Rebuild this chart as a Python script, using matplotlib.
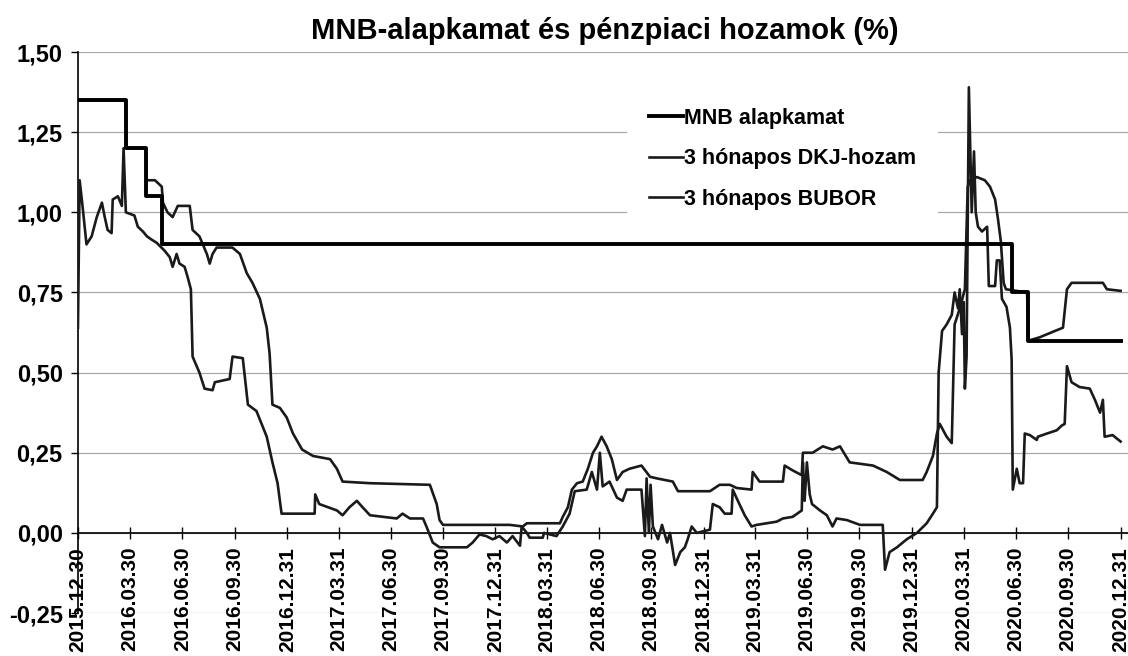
# -*- coding: utf-8 -*-
"""
MNB-alapkamat es penzpiaci hozamok (%), 2016-2020
"""
import matplotlib
matplotlib.use('Agg')
import matplotlib.pyplot as plt
import pandas as pd

plt.rcParams['font.family'] = ['Liberation Sans', 'DejaVu Sans']
plt.rcParams['font.weight'] = 'bold'

# %% data
mnb_dates = ['2015-12-30', '2016-03-23', '2016-04-27', '2016-05-25',
             '2020-06-24', '2020-07-22', '2020-12-31']
mnb_values = [1.35, 1.20, 1.05, 0.90, 0.75, 0.60, 0.60]

bubor_dates = [
    '2015-12-30', '2016-03-23', '2016-03-24', '2016-04-27', '2016-04-28',
    '2016-05-13', '2016-05-25', '2016-05-27', '2016-06-04', '2016-06-13',
    '2016-06-22', '2016-07-13', '2016-07-18', '2016-07-30', '2016-08-12',
    '2016-08-17', '2016-08-22', '2016-08-29', '2016-09-26', '2016-10-09',
    '2016-10-21', '2016-10-31', '2016-11-13', '2016-11-25', '2016-11-30',
    '2016-12-05', '2016-12-18', '2016-12-30', '2017-01-10', '2017-01-26',
    '2017-02-14', '2017-03-16', '2017-03-28', '2017-04-07', '2017-05-25',
    '2017-09-07', '2017-09-19', '2017-09-24', '2017-09-30', '2018-01-25',
    '2018-02-17', '2018-02-24', '2018-04-23', '2018-04-28', '2018-05-07',
    '2018-05-14', '2018-05-23', '2018-06-02', '2018-06-11', '2018-06-20',
    '2018-06-27', '2018-07-05', '2018-07-14', '2018-07-23', '2018-08-01',
    '2018-08-11', '2018-08-23', '2018-09-13', '2018-09-28', '2018-10-10',
    '2018-11-07', '2018-11-16', '2019-01-11', '2019-01-28', '2019-02-15',
    '2019-02-27', '2019-03-25', '2019-03-27', '2019-04-08', '2019-05-19',
    '2019-05-22', '2019-06-05', '2019-06-21', '2019-06-23', '2019-07-10',
    '2019-07-28', '2019-08-14', '2019-08-27', '2019-09-13', '2019-10-24',
    '2019-11-17', '2019-12-10', '2020-01-19', '2020-01-26', '2020-02-06',
    '2020-02-13', '2020-02-18', '2020-03-01', '2020-03-10', '2020-03-15',
    '2020-03-24', '2020-04-02', '2020-04-07', '2020-04-11', '2020-04-23',
    '2020-05-07', '2020-05-16', '2020-05-25', '2020-05-30', '2020-06-04',
    '2020-06-09', '2020-06-13', '2020-07-20', '2020-07-23', '2020-08-11',
    '2020-09-07', '2020-09-21', '2020-09-28', '2020-10-06', '2020-11-30',
    '2020-12-07', '2020-12-31']
bubor_values = [
    1.35, 1.35, 1.20, 1.20, 1.10,
    1.10, 1.08, 1.03, 1.00, 0.985,
    1.02, 1.02, 0.945, 0.925, 0.87,
    0.84, 0.87, 0.89, 0.89, 0.87,
    0.81, 0.78, 0.73, 0.64, 0.56,
    0.40, 0.39, 0.36, 0.31, 0.26,
    0.24, 0.23, 0.20, 0.16, 0.155,
    0.15, 0.09, 0.04, 0.025, 0.025,
    0.02, 0.03, 0.03, 0.05, 0.08,
    0.135, 0.155, 0.16, 0.20, 0.25,
    0.27, 0.30, 0.27, 0.23, 0.165,
    0.19, 0.20, 0.21, 0.175, 0.17,
    0.16, 0.13, 0.13, 0.15, 0.15,
    0.14, 0.135, 0.19, 0.16, 0.16,
    0.21, 0.195, 0.18, 0.25, 0.25,
    0.27, 0.26, 0.27, 0.22, 0.21,
    0.19, 0.165, 0.165, 0.19, 0.24,
    0.31, 0.34, 0.30, 0.28, 0.65,
    0.70, 0.76, 1.08, 1.10, 1.11,
    1.10, 1.08, 1.04, 0.98, 0.91,
    0.78, 0.76, 0.75, 0.60, 0.61,
    0.63, 0.64, 0.76, 0.78, 0.78,
    0.76, 0.755]

dkj_dates = [
    '2015-12-30', '2016-01-02', '2016-01-07', '2016-01-14', '2016-01-23',
    '2016-02-01', '2016-02-10', '2016-02-15', '2016-02-20', '2016-02-27',
    '2016-02-29', '2016-03-09', '2016-03-16', '2016-03-19', '2016-03-23',
    '2016-04-07', '2016-04-13', '2016-04-22', '2016-04-29', '2016-05-07',
    '2016-05-16', '2016-05-30', '2016-06-08', '2016-06-13', '2016-06-20',
    '2016-06-25', '2016-07-04', '2016-07-09', '2016-07-15', '2016-07-18',
    '2016-07-30', '2016-08-08', '2016-08-22', '2016-08-26', '2016-09-21',
    '2016-09-26', '2016-10-14', '2016-10-23', '2016-11-07', '2016-11-25',
    '2016-12-05', '2016-12-14', '2016-12-21', '2017-02-17', '2017-02-18',
    '2017-02-25', '2017-03-28', '2017-04-07', '2017-04-19', '2017-05-02',
    '2017-05-12', '2017-05-25', '2017-07-11', '2017-07-21', '2017-08-03',
    '2017-08-26', '2017-09-01', '2017-09-12', '2017-09-24', '2017-11-11',
    '2017-11-21', '2017-12-03', '2017-12-15', '2017-12-26', '2018-01-07',
    '2018-01-20', '2018-01-30', '2018-02-12', '2018-02-15', '2018-02-24',
    '2018-03-01', '2018-03-24', '2018-03-26', '2018-04-17', '2018-04-28',
    '2018-05-10', '2018-05-19', '2018-06-09', '2018-06-18', '2018-06-27',
    '2018-07-02', '2018-07-07', '2018-07-19', '2018-08-01', '2018-08-11',
    '2018-08-18', '2018-09-13', '2018-09-19', '2018-09-22', '2018-09-26',
    '2018-09-29', '2018-10-03', '2018-10-12', '2018-10-19', '2018-10-28',
    '2018-11-02', '2018-11-11', '2018-11-20', '2018-11-28', '2018-12-03',
    '2018-12-10', '2018-12-19', '2019-01-11', '2019-01-16', '2019-01-28',
    '2019-02-06', '2019-02-18', '2019-02-20', '2019-03-01', '2019-03-13',
    '2019-03-25', '2019-04-03', '2019-04-21', '2019-05-08', '2019-05-19',
    '2019-06-05', '2019-06-21', '2019-06-23', '2019-06-26', '2019-06-30',
    '2019-07-05', '2019-07-09', '2019-07-23', '2019-08-04', '2019-08-14',
    '2019-08-21', '2019-09-08', '2019-10-01', '2019-11-10', '2019-11-14',
    '2019-11-22', '2019-12-05', '2019-12-22', '2020-01-09', '2020-01-26',
    '2020-02-06', '2020-02-13', '2020-02-16', '2020-02-22', '2020-03-01',
    '2020-03-10', '2020-03-15', '2020-03-21', '2020-03-24', '2020-03-28',
    '2020-03-31', '2020-04-02', '2020-04-05', '2020-04-09', '2020-04-14',
    '2020-04-18', '2020-04-21', '2020-04-25', '2020-05-02', '2020-05-11',
    '2020-05-14', '2020-05-25', '2020-05-28', '2020-06-02', '2020-06-06',
    '2020-06-14', '2020-06-20', '2020-06-23', '2020-06-25', '2020-07-02',
    '2020-07-07', '2020-07-13', '2020-07-16', '2020-07-25', '2020-08-06',
    '2020-08-08', '2020-08-24', '2020-09-10', '2020-09-19', '2020-09-24',
    '2020-09-28', '2020-10-06', '2020-10-20', '2020-11-07', '2020-11-16',
    '2020-11-25', '2020-11-30', '2020-12-03', '2020-12-17', '2020-12-31']
dkj_values = [
    0.64, 1.10, 1.02, 0.90, 0.925,
    0.985, 1.03, 0.985, 0.945, 0.935,
    1.04, 1.05, 1.02, 1.20, 1.00,
    0.99, 0.955, 0.94, 0.925, 0.915,
    0.905, 0.88, 0.86, 0.83, 0.87,
    0.84, 0.83, 0.80, 0.76, 0.55,
    0.50, 0.45, 0.445, 0.47, 0.48,
    0.55, 0.545, 0.40, 0.38, 0.30,
    0.22, 0.155, 0.06, 0.06, 0.12,
    0.09, 0.07, 0.055, 0.08, 0.10,
    0.08, 0.055, 0.045, 0.06, 0.045,
    0.045, 0.02, -0.03, -0.045, -0.045,
    -0.03, -0.005, -0.01, -0.02, -0.01,
    -0.03, -0.01, -0.04, 0.02, 0.0,
    -0.015, -0.015, 0.0, -0.01, 0.02,
    0.06, 0.13, 0.135, 0.19, 0.135,
    0.25, 0.145, 0.16, 0.11, 0.10,
    0.135, 0.135, -0.01, 0.17, 0.0,
    0.15, 0.02, -0.02, 0.025, -0.03,
    0.0, -0.10, -0.06, -0.045, -0.02,
    0.02, 0.0, 0.01, 0.09, 0.08,
    0.06, 0.06, 0.135, 0.10, 0.055,
    0.02, 0.025, 0.03, 0.035, 0.045,
    0.05, 0.07, 0.22, 0.10, 0.22,
    0.12, 0.09, 0.07, 0.055, 0.02,
    0.045, 0.04, 0.025, 0.025, -0.115,
    -0.06, -0.045, -0.02, 0.0, 0.03,
    0.06, 0.08, 0.50, 0.63, 0.65,
    0.68, 0.75, 0.70, 0.76, 0.62,
    0.72, 0.45, 0.55, 1.39, 1.00,
    1.19, 1.00, 0.955, 0.94, 0.955,
    0.77, 0.77, 0.85, 0.85, 0.73,
    0.705, 0.64, 0.54, 0.135, 0.20,
    0.155, 0.155, 0.31, 0.305, 0.29,
    0.30, 0.31, 0.32, 0.335, 0.34,
    0.52, 0.47, 0.455, 0.45, 0.415,
    0.375, 0.415, 0.30, 0.305, 0.285]

tick_labels = ['2015.12.30', '2016.03.30', '2016.06.30', '2016.09.30',
               '2016.12.31', '2017.03.31', '2017.06.30', '2017.09.30',
               '2017.12.31', '2018.03.31', '2018.06.30', '2018.09.30',
               '2018.12.31', '2019.03.31', '2019.06.30', '2019.09.30',
               '2019.12.31', '2020.03.31', '2020.06.30', '2020.09.30',
               '2020.12.31']
y_ticks = [-0.25, 0.0, 0.25, 0.50, 0.75, 1.00, 1.25, 1.50]

title = 'MNB-alapkamat és pénzpiaci hozamok (%)'
names = ['MNB alapkamat', '3 hónapos DKJ-hozam', '3 hónapos BUBOR']

# %% plot
fig = plt.figure(figsize=(11.28, 6.56), dpi=100)
ax = fig.add_axes([0.0691, 0.0655, 0.9309, 0.8552])

ax.plot(pd.to_datetime(dkj_dates), dkj_values, color='#1a1a1a', lw=1.9,
        label=names[1], zorder=3)
ax.plot(pd.to_datetime(bubor_dates), bubor_values, color='#1a1a1a', lw=1.9,
        label=names[2], zorder=3)
ax.plot(pd.to_datetime(mnb_dates), mnb_values, color='black', lw=2.8,
        drawstyle='steps-post', label=names[0], zorder=4)

ax.set_ylim(-0.25, 1.5)
ax.set_xlim(pd.Timestamp('2015-12-30'), pd.Timestamp('2021-01-13'))

ax.set_yticks(y_ticks)
ax.set_yticklabels([('%.2f' % v).replace('.', ',') for v in y_ticks])
xt = pd.to_datetime(tick_labels, format='%Y.%m.%d')
ax.set_xticks(xt)
ax.set_xticklabels(tick_labels)
ax.tick_params(axis='x', direction='inout', length=8, width=1, pad=6,
               labelrotation=90, labelsize=15)
ax.tick_params(axis='y', direction='out', length=5, width=1, pad=6,
               labelsize=17)

ax.grid(axis='y', color='#a8a8a8', lw=0.9)
ax.set_axisbelow(True)
for s in ['top', 'right']:
    ax.spines[s].set_visible(False)
ax.spines['bottom'].set_position(('data', 0))
ax.spines['bottom'].set_linewidth(1.2)
ax.spines['left'].set_linewidth(1.2)

fig.text(0.536, 0.953, title, ha='center', va='center', fontsize=21,
         fontweight='bold')

h, l = ax.get_legend_handles_labels()
order = [2, 0, 1]
leg = ax.legend([h[i] for i in order], [l[i] for i in order],
                loc='upper left', bbox_to_anchor=(0.513, 0.958),
                frameon=True, facecolor='white', edgecolor='none',
                framealpha=1, fancybox=False, handlelength=1.6,
                handletextpad=0.05, labelspacing=0.9, borderpad=1.0,
                prop={'weight': 'bold', 'size': 15.5})

fig.savefig('out.png', dpi=100)
